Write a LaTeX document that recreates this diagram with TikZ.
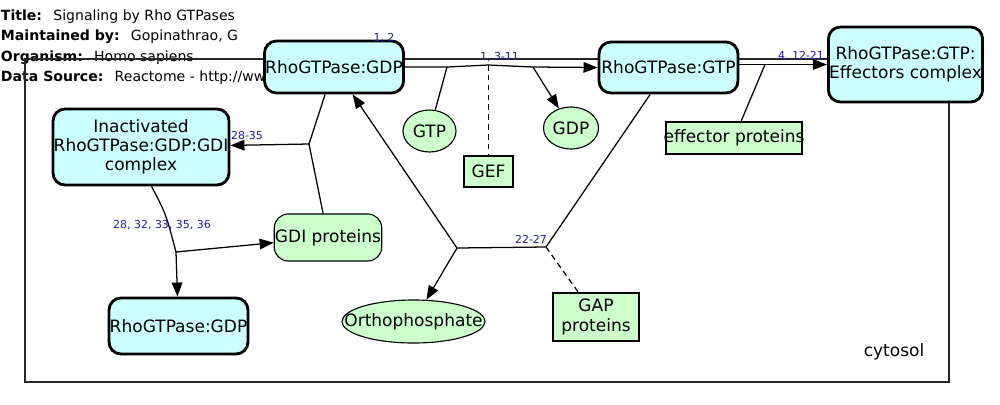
\documentclass[tikz,border=0pt]{standalone}
\usepackage{fontspec}
\setmainfont{DejaVu Sans}
\usepackage{tikz}
\usetikzlibrary{arrows.meta, positioning, shapes.geometric}
\definecolor{cpxcyan}{RGB}{204,255,255}
\definecolor{molgreen}{RGB}{204,255,204}
\definecolor{rxnblue}{RGB}{30,30,160}

\begin{document}
\begin{tikzpicture}[
  x=0.025cm, y=-0.025cm,
  every node/.style={font=\fontsize{12.1}{13.6}\selectfont, inner sep=0.5pt},
  cpx/.style={draw, line width=2pt, rounded corners=0.3cm, fill=cpxcyan, align=center},
  prot/.style={draw, line width=0.8pt, fill=molgreen, align=center},
  mol/.style={ellipse, draw, line width=0.8pt, fill=molgreen},
  hdr/.style={anchor=base west, font=\fontsize{10}{12}\selectfont},
  lbl/.style={text=rxnblue, font=\fontsize{7.8}{9}\selectfont},
  ln/.style={line width=0.9pt},
  arr/.style={ln, -{Triangle[length=10pt,width=7.5pt]}},
  cat/.style={ln, dash pattern=on 4pt off 3pt}
]
  \useasboundingbox (0,0) rectangle (1000,404);

  % header
  \node[hdr] (ttl) at (0,20)   {\textbf{Title:}\hspace{0.8em}Signaling by Rho GTPases};
  \node[hdr] (mnt) at (0,40.5) {\textbf{Maintained by:}\hspace{0.8em}Gopinathrao, G};
  \node[hdr] (org) at (0,61)   {\textbf{Organism:}\hspace{0.8em}Homo sapiens};
  \node[hdr] (src) at (0,81.5) {\textbf{Data Source:}\hspace{0.8em}Reactome - http://ww};

  % compartment
  \draw[line width=2.1pt, black!85] (25,59) rectangle (949,382);
  \node (cyto) at (894,352) {cytosol};

  % entities
  \node[cpx, minimum width=3.475cm, minimum height=1.3cm]   (gdp)   at (334,67)     {RhoGTPase:GDP};
  \node[cpx, minimum width=3.475cm, minimum height=1.275cm] (gtp)   at (668.5,67.5) {RhoGTPase:GTP};
  \node[cpx, minimum width=3.725cm, minimum height=1.875cm] (eff)   at (905.5,64.5) {RhoGTPase:GTP:\\Effectors complex};
  \node[cpx, minimum width=4.35cm, minimum height=1.9cm]    (inact) at (141,147)    {Inactivated\\RhoGTPase:GDP:GDI\\complex};
  \node[cpx, minimum width=3.475cm, minimum height=1.4cm]   (gdpb)  at (178.5,326)  {RhoGTPase:GDP};
  \node[mol, minimum width=1.325cm, minimum height=1.05cm]  (gtpm)  at (429.5,131)  {GTP};
  \node[mol, minimum width=1.375cm, minimum height=1.05cm]  (gdpm)  at (571,128)    {GDP};
  \node[prot, minimum width=1.225cm, minimum height=0.775cm] (gef)  at (488.5,171.5) {GEF};
  \node[prot, minimum width=3.4cm, minimum height=0.8cm]    (effp)  at (734,138)    {\makebox[0pt]{effector proteins}};
  \node[prot, rounded corners=0.35cm, minimum width=2.55cm, minimum height=1.175cm] (gdip) at (328,237.5) {GDI proteins};
  \node[mol, minimum width=3.575cm, minimum height=1.075cm] (ortho) at (413.5,321.5) {\makebox[0pt]{Orthophosphate}};
  \node[prot, minimum width=2.15cm, minimum height=1.2cm]   (gap)   at (596,317)    {GAP\\proteins};

  \node[lbl] (l12) at (384,38) {1, 2};

  % GDP/GTP exchange
  \coordinate (r1a) at (447,67);
  \coordinate (r1m) at (488.5,65);
  \coordinate (r1b) at (533,67);
  \draw[arr] (gdp.east) -- (r1a) -- (r1m) -- (r1b) -- (gtp.west);
  \draw[ln]  (gtpm) -- (r1a);
  \draw[arr] (r1b) -- (gdpm);
  \draw[cat] (r1m) -- (gef);
  \node[lbl] (l1) at (499.5,57) {1, 3-11};

  % effector binding
  \coordinate (r2a) at (765,64.5);
  \draw[arr] (gtp.east |- r2a) -- (eff.west |- r2a);
  \draw[ln]  (effp) -- (r2a);
  \node[lbl] (l2) at (801,56) {4, 12-21};

  % GTP hydrolysis
  \coordinate (r3a) at (546,247);
  \coordinate (r3b) at (457,248);
  \draw[ln]  (gtp) -- (r3a) -- (r3b);
  \draw[arr] (r3b) -- (gdp);
  \draw[arr] (r3b) -- (ortho);
  \draw[cat] (r3a) -- (gap);
  \node[lbl] (l3) at (531,239) {22-27};

  % GDI sequestration
  \coordinate (r4a) at (309,144);
  \draw[ln]  (gdp) -- (r4a) -- (gdip);
  \draw[arr] (r4a) -- (inact);
  \node[lbl] (l4) at (247,136) {28-35};

  % GDI release
  \coordinate (r5a) at (176,252);
  \draw[ln]  (inact.-75) .. controls (166,214) .. (r5a);
  \draw[arr] (r5a) -- (gdpb);
  \draw[arr] (r5a) -- (gdip);
  \node[lbl] (l5) at (162,225) {28, 32, 33, 35, 36};
\end{tikzpicture}
\end{document}
